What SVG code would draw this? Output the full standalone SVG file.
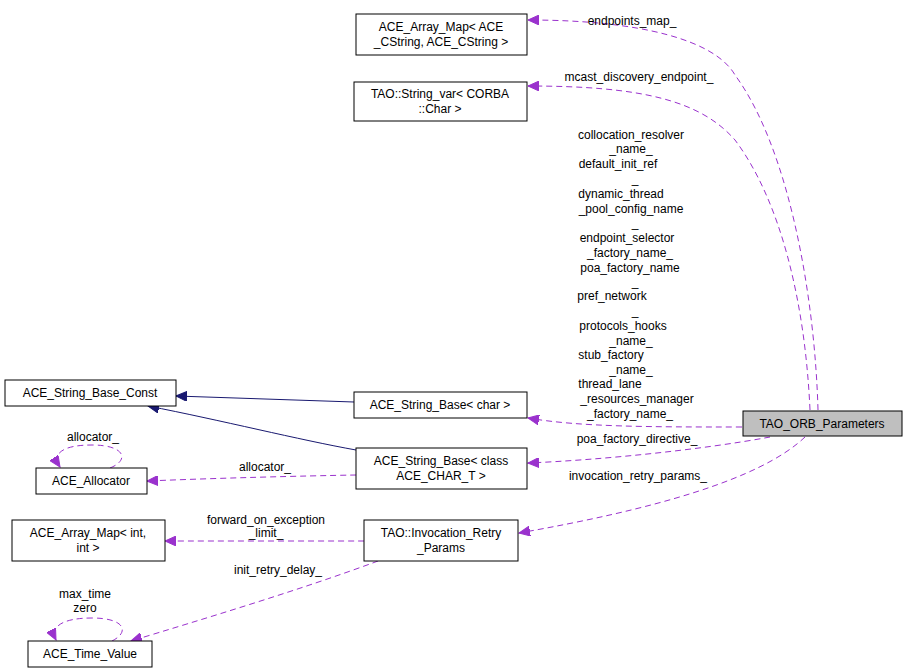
<svg xmlns="http://www.w3.org/2000/svg" width="907" height="672" viewBox="0 0 907 672">
<style>
text{font-family:"Liberation Sans",Arial,sans-serif;font-size:12px;fill:#000}
.n rect{fill:#fff;stroke:#000;stroke-width:1}
.m text{text-anchor:middle}
.d{fill:none;stroke:#9a32cd;stroke-dasharray:6,4}
.s{fill:none;stroke:#191970}
</style>
<defs>
<marker id="ap" markerWidth="12" markerHeight="10" refX="11" refY="5" orient="auto" markerUnits="userSpaceOnUse"><path d="M0,0L11,5L0,10z" fill="#9a32cd" stroke="#9a32cd"/></marker>
<marker id="an" markerWidth="12" markerHeight="10" refX="11" refY="5" orient="auto" markerUnits="userSpaceOnUse"><path d="M0,0L11,5L0,10z" fill="#191970" stroke="#191970"/></marker>
</defs>
<rect width="907" height="672" fill="#fff"/>
<g id="edges">
<path class="d" d="M818,410 C815,300 790,150 735,75 C715,40 640,20 528,20" marker-end="url(#ap)"/>
<path class="d" d="M810,410 C805,300 780,200 735,140 C700,100 640,86 528,86" marker-end="url(#ap)"/>
<path class="d" d="M742,427 C650,427 580,427 528,418" marker-end="url(#ap)"/>
<path class="d" d="M770,437 C700,450 600,460 528,463" marker-end="url(#ap)"/>
<path class="d" d="M805,437 C760,480 650,510 519,533" marker-end="url(#ap)"/>
<path class="s" d="M354,402 L176,396" marker-end="url(#an)"/>
<path class="s" d="M356,450 C300,440 220,420 148,406" marker-end="url(#an)"/>
<path class="d" d="M356,475 C300,476 220,478 147,481" marker-end="url(#ap)"/>
<path class="d" d="M364,541 C300,541 220,541 165,541" marker-end="url(#ap)"/>
<path class="d" d="M378,561 C300,590 200,620 131,641" marker-end="url(#ap)"/>
<path class="d" d="M110,468 C130,460 125,445 92,445 C60,445 52,455 60,467" marker-end="url(#ap)"/>
<path class="d" d="M112,641 C130,632 125,618 92,618 C60,618 50,628 56,640" marker-end="url(#ap)"/>
</g>
<g class="m">
<text x="632" y="25">endpoints_map_</text>
<text x="639" y="81">mcast_discovery_endpoint_</text>
<text x="631" y="139">collocation_resolver</text>
<text x="631" y="153">_name_</text>
<text x="618" y="168">default_init_ref</text>
<text x="635" y="183">_</text>
<text x="621" y="198">dynamic_thread</text>
<text x="631" y="213">_pool_config_name</text>
<text x="635" y="227">_</text>
<text x="627" y="242">endpoint_selector</text>
<text x="630" y="257">_factory_name_</text>
<text x="630" y="272">poa_factory_name</text>
<text x="635" y="286">_</text>
<text x="612" y="300">pref_network</text>
<text x="635" y="315">_</text>
<text x="623" y="330">protocols_hooks</text>
<text x="631" y="345">_name_</text>
<text x="611" y="359">stub_factory</text>
<text x="631" y="374">_name_</text>
<text x="610" y="388">thread_lane</text>
<text x="637" y="403">_resources_manager</text>
<text x="630" y="418">_factory_name_</text>
<text x="637" y="443">poa_factory_directive_</text>
<text x="638" y="480">invocation_retry_params_</text>
<text x="93" y="441">allocator_</text>
<text x="265" y="471">allocator_</text>
<text x="266" y="524">forward_on_exception</text>
<text x="266" y="537">_limit_</text>
<text x="278" y="574">init_retry_delay_</text>
<text x="85" y="598">max_time</text>
<text x="85" y="612">zero</text>
</g>
<g id="n1" class="n m"><rect x="356" y="14" width="171" height="41"/><text x="441" y="31">ACE_Array_Map&lt; ACE</text><text x="441" y="46">_CString, ACE_CString &gt;</text></g>
<g id="n2" class="n m"><rect x="354" y="82" width="173" height="39"/><text x="440" y="98">TAO::String_var&lt; CORBA</text><text x="440" y="113">::Char &gt;</text></g>
<g id="n3" class="n m"><rect x="5" y="380" width="171" height="26"/><text x="90" y="397">ACE_String_Base_Const</text></g>
<g id="n4" class="n m"><rect x="354" y="392" width="173" height="26"/><text x="440" y="409">ACE_String_Base&lt; char &gt;</text></g>
<g id="n5" class="n m"><rect x="356" y="448" width="171" height="41"/><text x="441" y="465">ACE_String_Base&lt; class</text><text x="441" y="480">ACE_CHAR_T &gt;</text></g>
<g id="n6" class="n m"><rect x="36" y="468" width="111" height="26"/><text x="91" y="485">ACE_Allocator</text></g>
<g id="n7" class="n m"><rect x="12" y="520" width="153" height="41"/><text x="88" y="537">ACE_Array_Map&lt; int,</text><text x="88" y="552">int &gt;</text></g>
<g id="n8" class="n m"><rect x="364" y="520" width="154" height="41"/><text x="441" y="537">TAO::Invocation_Retry</text><text x="441" y="552">_Params</text></g>
<g id="n9" class="n m"><rect x="28" y="641" width="124" height="26"/><text x="90" y="658">ACE_Time_Value</text></g>
<g id="n10" class="n m"><rect x="743" y="411" width="159" height="25" style="fill:#bfbfbf"/><text x="822" y="428">TAO_ORB_Parameters</text></g>
</svg>
